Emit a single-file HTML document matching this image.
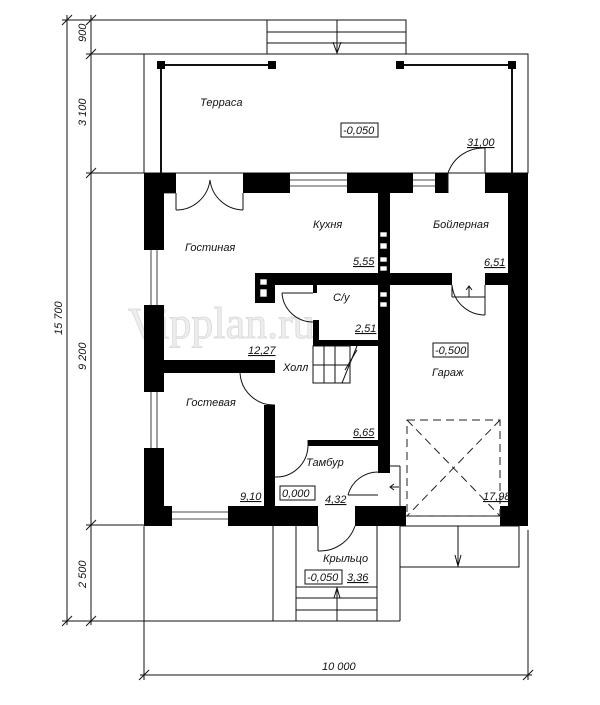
<!DOCTYPE html>
<html><head><meta charset="utf-8"><style>
html,body{margin:0;padding:0;background:#fff;}
svg{display:block}
text{font-family:"Liberation Sans","DejaVu Sans",sans-serif;font-style:italic;font-size:11px;fill:#111}
.t{stroke:#111;stroke-width:1;fill:none}
.w{fill:#000}
.d{stroke:#222;stroke-width:1;fill:none;stroke-dasharray:8,5}
</style></head><body>
<svg width="600" height="705" viewBox="0 0 600 705" xmlns="http://www.w3.org/2000/svg">
<!-- watermark -->
<text x="128" y="338" style="font-family:'Liberation Serif',serif;font-style:normal;font-size:44px;fill:#eee;stroke:#ddd;stroke-width:1">Vipplan.ru</text>

<!-- dimension lines left -->
<g class="t">
<line x1="67" y1="15" x2="67" y2="625"/>
<line x1="91" y1="15" x2="91" y2="625"/>
<line x1="62" y1="20" x2="267" y2="20"/>
<line x1="86" y1="54" x2="144" y2="54"/>
<line x1="86" y1="173" x2="144" y2="173"/>
<line x1="86" y1="525" x2="144" y2="525"/>
<line x1="62" y1="621" x2="273" y2="621"/>
<line x1="62" y1="25" x2="72" y2="15"/><line x1="86" y1="25" x2="96" y2="15"/>
<line x1="86" y1="59" x2="96" y2="49"/><line x1="86" y1="178" x2="96" y2="168"/>
<line x1="86" y1="530" x2="96" y2="520"/><line x1="86" y1="626" x2="96" y2="616"/>
<line x1="62" y1="626" x2="72" y2="616"/>
<!-- bottom dimension -->
<line x1="144" y1="526" x2="144" y2="680"/>
<line x1="528" y1="530" x2="528" y2="680"/>
<line x1="140" y1="675" x2="532" y2="675"/>
<line x1="139" y1="680" x2="149" y2="670"/><line x1="523" y1="680" x2="533" y2="670"/>
</g>
<text transform="translate(86,42) rotate(-90)">900</text>
<text transform="translate(86,126) rotate(-90)">3 100</text>
<text transform="translate(86,370) rotate(-90)">9 200</text>
<text transform="translate(62,335) rotate(-90)">15 700</text>
<text transform="translate(86,588) rotate(-90)">2 500</text>
<text x="322" y="670">10 000</text>

<!-- terrace -->
<g class="t">
<rect x="144" y="54" width="384" height="119"/>
<rect x="267" y="20" width="139" height="34"/>
<line x1="267" y1="32" x2="406" y2="32"/><line x1="267" y1="43" x2="406" y2="43"/>
<line x1="337" y1="20" x2="337" y2="54"/><polyline points="333,42 337,53 341,42"/>
<line x1="161" y1="65" x2="272" y2="65" style="stroke-width:2"/>
<line x1="161" y1="65" x2="161" y2="173" style="stroke-width:2"/>
<line x1="400" y1="65" x2="512" y2="65" style="stroke-width:2"/>
<line x1="512" y1="65" x2="512" y2="173" style="stroke-width:2"/>
</g>
<rect class="w" x="157" y="61" width="8" height="8"/><rect class="w" x="268" y="61" width="8" height="8"/>
<rect class="w" x="396" y="61" width="8" height="8"/><rect class="w" x="508" y="61" width="8" height="8"/>

<!-- outer walls -->
<g class="w">
<rect x="144" y="173" width="32" height="20"/>
<rect x="243" y="173" width="47" height="20"/>
<rect x="347" y="173" width="66" height="20"/>
<rect x="435" y="173" width="13" height="20"/>
<rect x="485" y="173" width="43" height="20"/>
<rect x="144" y="173" width="20" height="77"/>
<rect x="144" y="305" width="20" height="87"/>
<rect x="144" y="448" width="20" height="78"/>
<rect x="508" y="173" width="20" height="353"/>
<rect x="144" y="506" width="28" height="20"/>
<rect x="228" y="506" width="90" height="20"/>
<rect x="355" y="506" width="51" height="20"/>
<rect x="500" y="506" width="28" height="20"/>
<!-- interior -->
<rect x="378" y="193" width="12" height="280"/>
<rect x="255" y="273" width="197" height="12"/>
<rect x="485" y="273" width="23" height="12"/>
<rect x="255" y="273" width="20" height="30"/>
<rect x="313" y="285" width="4" height="8"/>
<rect x="313" y="320" width="6" height="26"/>
<rect x="313" y="340" width="65" height="6"/>
<rect x="164" y="360" width="111" height="13"/>
<rect x="264" y="405" width="11" height="101"/>
<rect x="308" y="440" width="70" height="6"/>
</g>
<!-- vent marks -->
<g fill="#fff" stroke="#000" stroke-width="0.6">
<rect x="260" y="279" width="7" height="6"/><rect x="260" y="289" width="7" height="8"/>
<rect x="380" y="232" width="7" height="5"/><rect x="380" y="243" width="7" height="6"/>
<rect x="380" y="257" width="7" height="5"/><rect x="380" y="266" width="7" height="5"/>
<rect x="380" y="292" width="7" height="5"/><rect x="380" y="302" width="7" height="5"/>
</g>
<!-- windows -->
<g class="t" style="stroke-width:0.8">
<line x1="290" y1="180" x2="347" y2="180"/><line x1="290" y1="186" x2="347" y2="186"/>
<line x1="413" y1="180" x2="435" y2="180"/><line x1="413" y1="186" x2="435" y2="186"/>
<line x1="151" y1="250" x2="151" y2="305"/><line x1="157" y1="250" x2="157" y2="305"/>
<line x1="151" y1="392" x2="151" y2="448"/><line x1="157" y1="392" x2="157" y2="448"/>
<line x1="172" y1="512" x2="228" y2="512"/><line x1="172" y1="519" x2="228" y2="519"/>
<line x1="164" y1="193" x2="176" y2="193"/>
</g>
<!-- doors -->
<g class="t">
<line x1="176" y1="193" x2="176" y2="210"/><line x1="243" y1="193" x2="243" y2="210"/>
<path d="M176,210 A34,34 0 0 0 210,180"/><path d="M243,210 A34,34 0 0 1 210,180"/>
<path d="M448,173 A37,37 0 0 1 485,148"/><line x1="485" y1="148" x2="485" y2="173"/>
<line x1="448" y1="193" x2="448" y2="173"/>
<line x1="452" y1="285" x2="452" y2="297"/><line x1="452" y1="297" x2="485" y2="297"/>
<line x1="485" y1="285" x2="485" y2="315"/><path d="M452,285 A33,33 0 0 0 485,315"/>
<line x1="469" y1="297" x2="469" y2="286"/><polyline points="466,290 469,286 472,290"/>
<path d="M282,293 A31,31 0 0 0 313,322"/><line x1="282" y1="293" x2="313" y2="293"/>
<path d="M240,373 A34,34 0 0 0 275,405"/>
<path d="M308,446 A32,32 0 0 1 275,477"/><line x1="308" y1="440" x2="308" y2="446"/>
<path d="M348,495 A31,31 0 0 1 378,472"/><line x1="348" y1="495" x2="378" y2="495"/>
<line x1="390" y1="466" x2="400" y2="466"/><line x1="400" y1="466" x2="400" y2="506"/>
<line x1="390" y1="487" x2="399" y2="487"/><polyline points="394,484 390,487 394,490"/>
<line x1="318" y1="526" x2="318" y2="551"/><path d="M318,551 A37,37 0 0 0 355,526"/>
<!-- porch -->
<line x1="273" y1="526" x2="273" y2="621"/><line x1="296" y1="526" x2="296" y2="621"/>
<line x1="377" y1="526" x2="377" y2="621"/><line x1="400" y1="526" x2="400" y2="621"/>
<line x1="273" y1="621" x2="400" y2="621"/>
<line x1="296" y1="587" x2="377" y2="587"/><line x1="296" y1="598" x2="377" y2="598"/><line x1="296" y1="610" x2="377" y2="610"/>
<line x1="337" y1="587" x2="337" y2="621"/><polyline points="334,598 337,588 340,598"/>
<!-- ramp -->
<rect x="400" y="526" width="119" height="41"/>
<line x1="458" y1="526" x2="458" y2="567"/><polyline points="455,555 458,566 461,555"/>
<line x1="406" y1="516" x2="500" y2="516"/>
<!-- stairs -->
<rect x="313" y="346" width="37" height="37"/>
<line x1="324" y1="346" x2="324" y2="383"/><line x1="335" y1="346" x2="335" y2="383"/>
<line x1="313" y1="365" x2="350" y2="365"/>
<line x1="342" y1="383" x2="357" y2="346"/><line x1="345" y1="370" x2="357" y2="350"/>
</g>
<!-- garage dashed -->
<rect class="d" x="407" y="420" width="93" height="96"/>
<line class="d" x1="407" y1="420" x2="500" y2="516"/>
<line class="d" x1="500" y1="420" x2="407" y2="516"/>

<!-- labels -->
<text x="200" y="106">Терраса</text>
<rect class="t" x="341" y="123" width="37" height="14"/><text x="343" y="134">-0,050</text>
<text x="467" y="146" text-decoration="underline">31,00</text>
<text x="313" y="228">Кухня</text>
<text x="433" y="228">Бойлерная</text>
<text x="185" y="251">Гостиная</text>
<text x="353" y="265" text-decoration="underline">5,55</text>
<text x="484" y="266" text-decoration="underline">6,51</text>
<text x="333" y="301">С/у</text>
<text x="355" y="332" text-decoration="underline">2,51</text>
<text x="248" y="354" text-decoration="underline">12,27</text>
<text x="283" y="371">Холл</text>
<rect class="t" x="433" y="343" width="35" height="14"/><text x="435" y="354">-0,500</text>
<text x="432" y="376">Гараж</text>
<text x="186" y="406">Гостевая</text>
<text x="353" y="436" text-decoration="underline">6,65</text>
<text x="306" y="466">Тамбур</text>
<rect class="t" x="280" y="486" width="35" height="14"/><text x="282" y="497">0,000</text>
<text x="325" y="503" text-decoration="underline">4,32</text>
<text x="240" y="500" text-decoration="underline">9,10</text>
<text x="483" y="500" text-decoration="underline">17,98</text>
<text x="323" y="562">Крыльцо</text>
<rect class="t" x="305" y="570" width="37" height="14"/><text x="307" y="581">-0,050</text>
<text x="347" y="581" text-decoration="underline">3,36</text>
</svg>
</body></html>
